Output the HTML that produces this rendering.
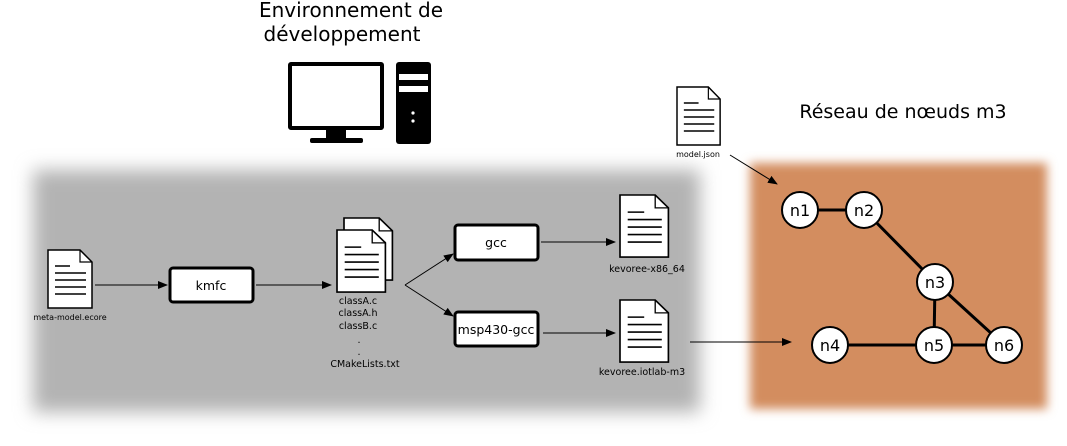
<!DOCTYPE html>
<html><head><meta charset="utf-8"><style>
html,body{margin:0;padding:0;background:#fff;}
svg{display:block;}
text{font-family:"DejaVu Sans","Liberation Sans",sans-serif;fill:#000;}
</style></head><body>
<svg width="1067" height="446" viewBox="0 0 1067 446" xmlns="http://www.w3.org/2000/svg">
<defs>
<filter id="b1" x="-10%" y="-20%" width="120%" height="140%"><feGaussianBlur stdDeviation="9"/></filter>
<filter id="b2" x="-10%" y="-20%" width="120%" height="140%"><feGaussianBlur stdDeviation="5"/></filter>
<marker id="ar" markerWidth="10" markerHeight="8" refX="9" refY="4" orient="auto" markerUnits="userSpaceOnUse"><path d="M0,0 L10,4 L0,8 Z" fill="#000"/></marker>
<g id="doc">
<path d="M0,0 H32 L44,12 V58 H0 Z" fill="#fff" stroke="#000" stroke-width="1.5"/>
<path d="M32,0 V12 H44" fill="none" stroke="#000" stroke-width="1.2"/>
<line x1="7" y1="16" x2="22" y2="16" stroke="#000" stroke-width="1.5"/>
<line x1="7" y1="23" x2="38" y2="23" stroke="#000" stroke-width="1.5"/>
<line x1="7" y1="30" x2="38" y2="30" stroke="#000" stroke-width="1.5"/>
<line x1="7" y1="37" x2="38" y2="37" stroke="#000" stroke-width="1.5"/>
<line x1="7" y1="44" x2="38" y2="44" stroke="#000" stroke-width="1.5"/>
</g>
</defs>

<rect x="33" y="170" width="667" height="242" fill="#b3b3b3" filter="url(#b1)"/>
<rect x="750" y="163" width="297" height="246" fill="#d38d5f" filter="url(#b2)"/>

<text x="351" y="17" font-size="20" text-anchor="middle">Environnement de</text>
<text x="342" y="41" font-size="20" text-anchor="middle">développement</text>
<text x="903" y="118" font-size="19" text-anchor="middle">Réseau de nœuds m3</text>

<!-- computer -->
<rect x="290" y="64" width="92" height="64" fill="#fff" stroke="#000" stroke-width="4" rx="1"/>
<rect x="326" y="129" width="20" height="10" fill="#000"/>
<rect x="310" y="138" width="53" height="5" rx="2" fill="#000"/>
<rect x="396" y="62" width="35" height="82" rx="3" fill="#000"/>
<rect x="399" y="74" width="29" height="6" fill="#fff"/>
<rect x="399" y="86" width="29" height="6" fill="#fff"/>
<circle cx="413" cy="113" r="1.6" fill="#fff"/>
<circle cx="413" cy="121" r="1.6" fill="#fff"/>

<!-- docs -->
<use href="#doc" transform="translate(48,250)"/>
<text x="70" y="320" font-size="8" text-anchor="middle">meta-model.ecore</text>

<use href="#doc" transform="translate(344,218) scale(1.1,1.07)"/>
<use href="#doc" transform="translate(337,230) scale(1.1,1.07)"/>
<text font-size="9.5" text-anchor="middle"><tspan x="358" y="304">classA.c</tspan><tspan x="358" y="316">classA.h</tspan><tspan x="358" y="329">classB.c</tspan><tspan x="359" y="343">.</tspan><tspan x="359" y="355">.</tspan><tspan x="365" y="367">CMakeLists.txt</tspan></text>

<use href="#doc" transform="translate(620,195) scale(1.1,1.07)"/>
<text x="647" y="272" font-size="9.5" text-anchor="middle">kevoree-x86_64</text>
<use href="#doc" transform="translate(620,300) scale(1.1,1.07)"/>
<text x="642" y="375" font-size="9.5" text-anchor="middle">kevoree.iotlab-m3</text>

<use href="#doc" transform="translate(677,87) scale(0.98,1)"/>
<text x="698" y="157" font-size="8" text-anchor="middle">model.json</text>

<!-- boxes -->
<rect x="170" y="268" width="83" height="34" rx="3" fill="#fff" stroke="#000" stroke-width="3"/>
<text x="211" y="290" font-size="12.5" text-anchor="middle">kmfc</text>
<rect x="455" y="225" width="83" height="35" rx="3" fill="#fff" stroke="#000" stroke-width="3"/>
<text x="496" y="247" font-size="12.5" text-anchor="middle">gcc</text>
<rect x="455" y="312" width="83" height="34" rx="3" fill="#fff" stroke="#000" stroke-width="3"/>
<text x="496" y="334" font-size="12.5" text-anchor="middle">msp430-gcc</text>

<!-- arrows -->
<g stroke="#000" stroke-width="1" fill="none">
<line x1="95" y1="285" x2="167" y2="285" marker-end="url(#ar)"/>
<line x1="256" y1="285" x2="331" y2="285" marker-end="url(#ar)"/>
<line x1="405" y1="285" x2="453" y2="254" marker-end="url(#ar)"/>
<line x1="405" y1="285" x2="453" y2="316" marker-end="url(#ar)"/>
<line x1="541" y1="242" x2="615" y2="242" marker-end="url(#ar)"/>
<line x1="543" y1="333" x2="615" y2="333" marker-end="url(#ar)"/>
<line x1="690" y1="342" x2="791" y2="342" marker-end="url(#ar)"/>
<line x1="730" y1="155" x2="777" y2="184" marker-end="url(#ar)"/>
</g>

<!-- network -->
<g stroke="#000" stroke-width="3">
<line x1="800" y1="210" x2="864" y2="210"/>
<line x1="864" y1="210" x2="935" y2="282"/>
<line x1="935" y1="282" x2="934" y2="345"/>
<line x1="935" y1="282" x2="1004" y2="345"/>
<line x1="830" y1="345" x2="1004" y2="345"/>
</g>
<g fill="#fff" stroke="#000" stroke-width="2">
<circle cx="800" cy="210" r="18"/>
<circle cx="864" cy="210" r="18"/>
<circle cx="935" cy="282" r="18"/>
<circle cx="830" cy="345" r="18"/>
<circle cx="934" cy="345" r="18"/>
<circle cx="1004" cy="345" r="18"/>
</g>
<g font-size="16" text-anchor="middle">
<text x="800" y="216">n1</text>
<text x="864" y="216">n2</text>
<text x="935" y="288">n3</text>
<text x="830" y="351">n4</text>
<text x="934" y="351">n5</text>
<text x="1004" y="351">n6</text>
</g>
</svg>
</body></html>
